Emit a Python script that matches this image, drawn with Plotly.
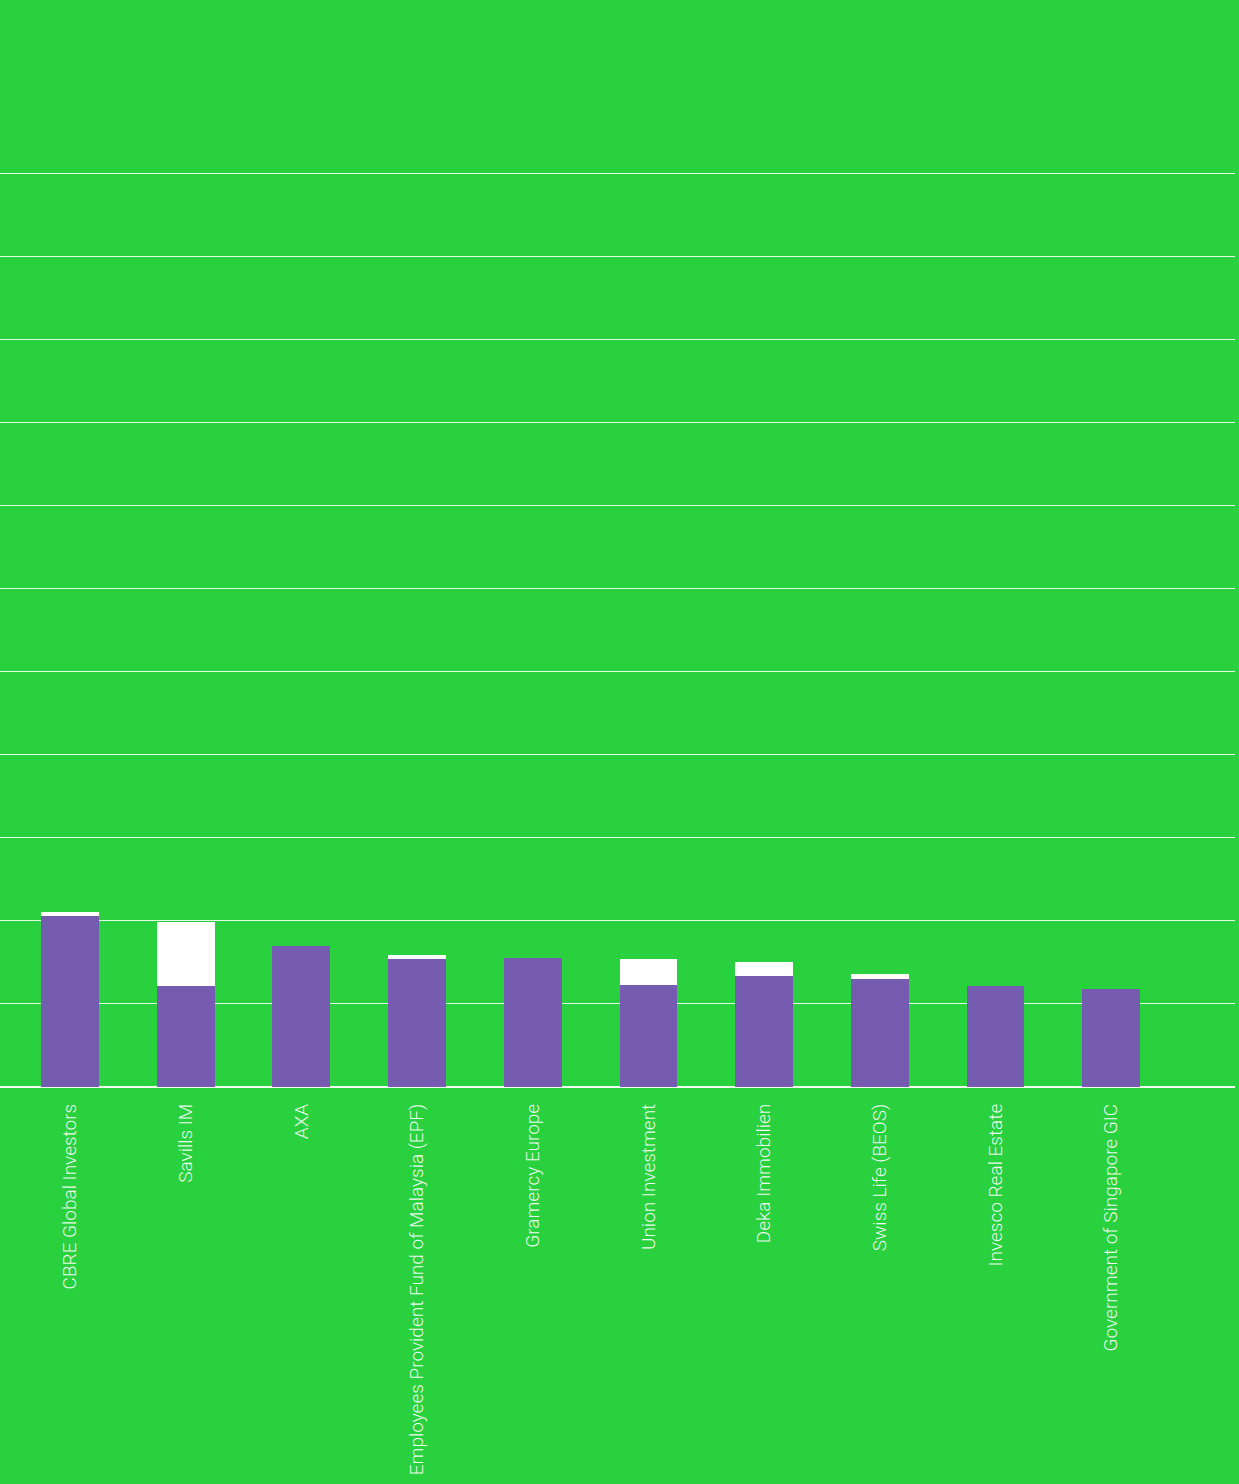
import plotly.graph_objects as go

categories = [
    "CBRE Global Investors",
    "Savills IM",
    "AXA",
    "Employees Provident Fund of Malaysia (EPF)",
    "Gramercy Europe",
    "Union Investment",
    "Deka Immobilien",
    "Swiss Life (BEOS)",
    "Invesco Real Estate",
    "Government of Singapore GIC",
]
purple_values = [206, 122, 170, 154, 155, 123, 134, 130, 122, 118]
white_values = [5, 77, 0, 5, 0, 31, 17, 6, 0, 0]

GREEN = "#2AD13F"
PURPLE = "#765CB1"

fig = go.Figure()
fig.add_trace(go.Bar(x=categories, y=purple_values, marker=dict(color=PURPLE, line=dict(width=0)),
                     width=0.5, showlegend=False))
fig.add_trace(go.Bar(x=categories, y=white_values, marker=dict(color="#FFFFFF", line=dict(width=0)),
                     width=0.5, showlegend=False))

fig.update_layout(
    barmode="stack",
    width=1239, height=1484,
    paper_bgcolor=GREEN, plot_bgcolor=GREEN,
    margin=dict(l=0, r=4, t=124, b=397, autoexpand=False),
    font=dict(family="Roboto", size=19, weight=300, color="rgba(255,255,255,0.92)"),
    xaxis=dict(range=[-0.605, 10.07], tickangle=-90, showgrid=False, ticks="",
               ticklabelstandoff=12, showline=False, zeroline=False),
    yaxis=dict(range=[0, 11.6 * 100], dtick=100, showticklabels=False, showgrid=True,
               gridcolor="rgba(255,255,255,0.88)", gridwidth=1,
               zeroline=True, zerolinecolor="rgba(255,255,255,0.95)", zerolinewidth=1.5),
)

fig.write_html(
    "out.html",
    config={"displayModeBar": False},
    post_script="document.body.style.margin='0';document.body.style.background='" + GREEN + "';",
)
